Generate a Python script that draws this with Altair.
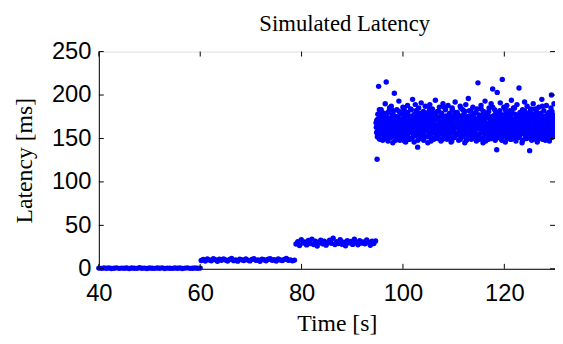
import altair as alt
import numpy as np
import pandas as pd

# ---- data ----
# segment 1: ~0 ms, 40 s .. 60 s
seg0_t = (40.0, 60.0)
seg0_lat = [0.8, 0.5, 1.0, 0.6, 0.9, 0.4, 0.7, 1.1, 0.5, 0.8, 0.6, 1.0, 0.4, 0.9,
            0.7, 0.5, 1.2, 0.6, 0.8, 0.4, 1.0, 0.7, 0.5, 0.9, 0.6, 1.1, 0.4, 0.8,
            0.7, 0.5, 1.0, 0.6, 0.9, 0.4, 0.8, 1.1, 0.5, 0.7, 0.9, 0.6, 0.8]
# segment 2: ~10 ms, 60 s .. 78.6 s
seg1_t = (60.2, 78.6)
seg1_lat = [9.5, 10.8, 8.9, 11.2, 10.1, 9.2, 11.6, 10.4, 8.7, 10.9, 9.8, 11.3, 10.2,
            9.0, 10.7, 11.8, 9.4, 10.3, 8.8, 11.0, 10.5, 9.6, 11.4, 10.0, 9.1, 10.8,
            11.7, 9.7, 10.2, 8.6, 11.1, 10.4, 9.3, 10.9, 11.5, 9.9, 10.6, 9.0, 11.2,
            10.1, 9.5, 10.7, 11.9, 9.8, 10.3, 9.2, 10.0]
# segment 3: ~30 ms, 78.9 s .. 94.6 s
seg2_t = (78.9, 94.6)
seg2_lat = [28.5, 31.2, 26.8, 33.4, 29.7, 30.9, 27.5, 32.6, 29.1, 34.2, 28.0, 31.7,
            26.2, 30.4, 33.0, 28.8, 31.9, 27.2, 30.1, 32.8, 29.4, 35.1, 27.9, 31.3,
            29.0, 33.6, 28.3, 30.7, 26.5, 32.2, 29.8, 31.5, 28.1, 34.0, 30.3, 27.6,
            32.4, 29.5, 31.0, 28.7, 33.2, 30.6, 27.0, 31.8, 29.2, 32.0]
# segment 4 (first pass of samples): ~165 ms, 94.7 s .. 130 s
seg3_t = (94.7, 130.0)
seg3_lat = [
    168, 157, 126, 172, 161, 210, 150, 176, 164, 155, 183, 159, 170, 148, 166, 178, 153, 162, 190, 171,
    215, 158, 174, 149, 167, 181, 160, 152, 173, 165, 187, 156, 169, 145, 177, 162, 202, 158, 171, 154,
    166, 183, 151, 175, 160, 193, 163, 148, 172, 157, 180, 168, 154, 186, 161, 174, 147, 165, 179, 159,
    170, 152, 188, 163, 156, 176, 149, 167, 184, 158, 173, 161, 195, 155, 169, 146, 178, 164, 153, 182,
    160, 171, 140, 166, 185, 157, 174, 150, 163, 191, 168, 155, 179, 162, 148, 175, 159, 187, 167, 153,
    172, 161, 145, 180, 164, 157, 189, 170, 152, 176, 163, 184, 158, 167, 149, 178, 160, 194, 171, 155,
    165, 181, 150, 173, 162, 186, 156, 169, 147, 177, 164, 159, 190, 168, 153, 175, 161, 183, 157, 172,
    149, 166, 188, 160, 174, 154, 179, 163, 146, 170, 185, 158, 167, 151, 176, 162, 192, 156, 173, 164,
    180, 155, 168, 148, 175, 161, 187, 159, 171, 152, 165, 183, 157, 178, 162, 145, 169, 189, 154, 174,
    160, 167, 196, 150, 176, 163, 158, 182, 149, 171, 165, 186, 153, 174, 161, 179, 156, 168, 147, 184,
    162, 214, 170, 155, 177, 164, 151, 188, 166, 159, 173, 145, 181, 160, 169, 193, 154, 175, 163, 157,
    178, 161, 149, 185, 167, 156, 172, 190, 158, 165, 207, 152, 176, 163, 183, 148, 170, 159, 137, 203,
    166, 180, 155, 173, 161, 191, 150, 168, 177, 218, 157, 164, 186, 153, 171, 146, 179, 162, 188, 158,
    169, 154, 175, 163, 182, 149, 167, 194, 160, 172, 156, 185, 165, 151, 178, 161, 147, 170, 189, 158,
    174, 164, 208, 152, 180, 168, 157, 176, 145, 183, 162, 171, 155, 192, 166, 150, 179, 160, 187, 169,
    156, 173, 163, 136, 181, 159, 168, 148, 177, 165, 190, 154, 172, 161, 184, 151, 175, 167, 146, 179,
    162, 186, 157, 170, 153, 178, 164, 195, 149, 174, 160, 182, 168, 155, 176, 163, 188, 151, 171, 158,
    166, 180, 147, 173, 161, 185, 200, 156, 169, 177, 152, 190, 164, 159,
]
# segment 4 (second pass of samples, interleaved in time)
seg4_t = (94.75, 130.0)
seg4_lat = [
    163, 171, 152, 178, 158, 166, 183, 149, 174, 161, 169, 155, 180, 164, 157, 172, 150, 167, 176, 160,
    154, 179, 165, 147, 170, 162, 185, 158, 173, 151, 166, 177, 159, 168, 182, 153, 164, 171, 148, 175,
    161, 156, 174, 167, 150, 181, 163, 159, 170, 155, 178, 165, 152, 172, 160, 184, 157, 169, 146, 176,
    166, 153, 180, 162, 171, 149, 175, 164, 158, 183, 168, 151, 173, 160, 177, 155, 166, 189, 162, 170,
    157, 174, 148, 168, 163, 179, 154, 171, 160, 167, 150, 176, 165, 181, 158, 172, 153, 164, 178, 161,
    169, 152, 175, 159, 166, 184, 156, 173, 147, 170, 163, 180, 157, 168, 174, 151, 165, 177, 160, 154,
    172, 164, 158, 181, 150, 167, 175, 162, 155, 179, 166, 149, 171, 160, 186, 157, 169, 153, 176, 163,
    158, 170, 165, 152, 178, 161, 168, 156, 174, 147, 183, 164, 159, 172, 151, 167, 180, 155, 166, 175,
    162, 154, 177, 168, 160, 173, 149, 185, 163, 157, 170, 152, 176, 165, 158, 181, 161, 174, 148, 169,
    175, 160, 166, 153, 182, 158, 171, 164, 150, 178, 163, 156, 169, 174, 159, 167, 152, 180, 162, 171,
    155, 168, 173, 161, 149, 176, 165, 184, 157, 170, 162, 151, 179, 166, 158, 173, 147, 164, 177, 160,
    167, 153, 181, 163, 172, 156, 168, 150, 175, 161, 186, 158, 170, 164, 152, 178, 165, 157, 173, 162,
    151, 174, 160, 169, 182, 155, 166, 177, 148, 171, 163, 159, 176, 154, 168, 183, 161, 172, 150, 165,
    178, 158, 170, 162, 153, 175, 167, 149, 180, 164, 157, 172, 160, 185, 152, 169, 163, 176, 155, 166,
    160, 173, 151, 167, 179, 162, 156, 171, 165, 148, 177, 159, 168, 182, 154, 174, 161, 150, 170, 164,
    169, 155, 176, 163, 158, 184, 152, 166, 174, 160, 149, 178, 165, 171, 157, 163, 181, 153, 168, 175,
    162, 150, 172, 167, 156, 179, 164, 158, 187, 170, 153, 166, 175, 161, 148, 173, 160, 169, 155, 178,
    165, 172, 154, 176, 160, 168, 151, 181, 163, 157, 174, 166, 159, 170,
]

x_ticks = [40, 60, 80, 100, 120]
y_ticks = [0, 50, 100, 150, 200, 250]
x_domain = [40, 130]
y_domain = [0, 250]

# ---- build table ----
frames = []
for (t0, t1), lat in [(seg0_t, seg0_lat), (seg1_t, seg1_lat), (seg2_t, seg2_lat),
                      (seg3_t, seg3_lat), (seg4_t, seg4_lat)]:
    frames.append(pd.DataFrame({"t": np.linspace(t0, t1, len(lat)), "lat": lat}))
df = pd.concat(frames, ignore_index=True)

W, H = 462, 220
TICK = 5
serif = "Liberation Serif"
sans = "Liberation Sans"

xscale = alt.Scale(domain=x_domain, nice=False, zero=False)
yscale = alt.Scale(domain=y_domain, nice=False)

x_axis = alt.Axis(values=x_ticks, title="Time [s]", ticks=False, grid=False,
                  labelFont=sans, labelFontSize=24, labelColor="black", labelPadding=13,
                  titleFont=serif, titleFontSize=24, titleFontWeight="normal",
                  titleColor="black", titlePadding=6, titleX=W / 2 + 10,
                  domainColor="black", labelFlush=False)
y_axis = alt.Axis(values=y_ticks, title="Latency [ms]", ticks=False, grid=False,
                  labelFont=sans, labelFontSize=24, labelColor="black", labelPadding=8,
                  titleFont=serif, titleFontSize=24, titleFontWeight="normal",
                  titleColor="black", titlePadding=15, domainColor="black", labelFlush=False)

points = alt.Chart(df).mark_circle(size=30, color="#0000ff", opacity=1).encode(
    x=alt.X("t:Q", scale=xscale, axis=x_axis),
    y=alt.Y("lat:Q", scale=yscale, axis=y_axis),
)

xt = pd.DataFrame({"t": x_ticks})
yt = pd.DataFrame({"lat": y_ticks})

tick_style = dict(color="black", strokeWidth=1)
bottom_ticks = alt.Chart(xt).mark_rule(**tick_style).encode(
    x=alt.X("t:Q", scale=xscale, axis=x_axis), y=alt.value(H), y2=alt.value(H - TICK))
top_ticks = alt.Chart(xt).mark_rule(**tick_style).encode(
    x=alt.X("t:Q", scale=xscale, axis=x_axis), y=alt.value(0), y2=alt.value(TICK))
left_ticks = alt.Chart(yt).mark_rule(**tick_style).encode(
    y=alt.Y("lat:Q", scale=yscale, axis=y_axis), x=alt.value(0), x2=alt.value(TICK))
right_ticks = alt.Chart(yt).mark_rule(**tick_style).encode(
    y=alt.Y("lat:Q", scale=yscale, axis=y_axis), x=alt.value(W), x2=alt.value(W - TICK))

chart = alt.layer(points, bottom_ticks, top_ticks, left_ticks, right_ticks).properties(
    width=W, height=H,
    title=alt.TitleParams("Simulated Latency", font=serif, fontSize=23,
                          fontWeight="normal", color="black", anchor="middle",
                          dx=18, offset=4),
    autosize=alt.AutoSizeParams(type="none"),
    padding={"left": 92, "top": 42, "right": 0, "bottom": 72},
).configure_view(stroke="black", strokeWidth=1).configure(background="white")

chart.save("out.html", embed_options={"renderer": "svg", "actions": False})
